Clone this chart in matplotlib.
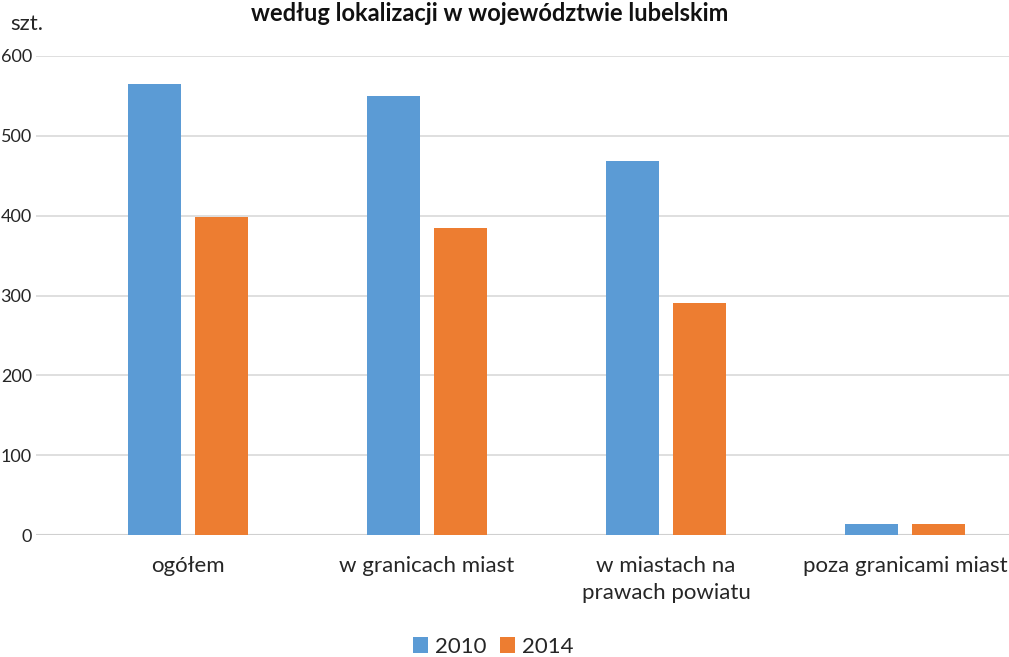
import matplotlib
matplotlib.use("Agg")
import matplotlib.pyplot as plt
import numpy as np

plt.rcParams['font.family'] = ['Lato', 'DejaVu Sans']

categories = ["ogółem", "w granicach miast", "w miastach na\nprawach powiatu", "poza granicami miast"]
series_names = ["2010", "2014"]
values_2010 = [565, 550, 468, 14]
values_2014 = [398, 384, 290, 14]
yticks = [0, 100, 200, 300, 400, 500, 600]

blue = "#5B9BD5"
orange = "#ED7D31"
text_color = "#262626"

fig = plt.figure(figsize=(10.09, 6.57), dpi=100)
W, H = 1009, 657
ax_left, ax_right = 36, 1009
ax_top, ax_bottom = 56, 535
ax = fig.add_axes([ax_left / W, 1 - ax_bottom / H, (ax_right - ax_left) / W, (ax_bottom - ax_top) / H])

x = np.arange(len(categories))
bw = 0.222
off = 0.14
ax.bar(x - off, values_2010, bw, color=blue, label=series_names[0], zorder=3)
ax.bar(x + off, values_2014, bw, color=orange, label=series_names[1], zorder=3)

ax.set_xlim(-0.636, 3.435)
ax.set_ylim(0, 600)
ax.set_yticks(yticks)
ax.set_yticklabels([str(t) for t in yticks], fontsize=13, color=text_color)
ax.set_xticks(x)
ax.set_xticklabels(categories, fontsize=16, color=text_color, linespacing=1.45)
ax.tick_params(axis='both', length=0)
ax.tick_params(axis='y', pad=3)
ax.tick_params(axis='x', pad=15)
ax.grid(axis='y', color="#D9D9D9", linewidth=1.2, zorder=0)
for s in ax.spines.values():
    s.set_visible(False)
ax.axhline(0, color="#D0D0D0", linewidth=1.5, zorder=2)

fig.text(10 / W, 1 - 24 / H, "szt.", fontsize=16, color=text_color, ha="left", va="center")
fig.text(490 / W, 1 - 2 / H, "według lokalizacji w województwie lubelskim", fontsize=17,
         fontweight="bold", color="#111111", ha="center", va="top")

leg = fig.legend(loc="center", bbox_to_anchor=(493 / W, 1 - 647 / H), ncol=2, frameon=False,
                 fontsize=16, handlelength=0.7, handleheight=0.7, handletextpad=0.3,
                 columnspacing=0.6)
for t in leg.get_texts():
    t.set_color(text_color)

fig.savefig("out.png", dpi=100)
